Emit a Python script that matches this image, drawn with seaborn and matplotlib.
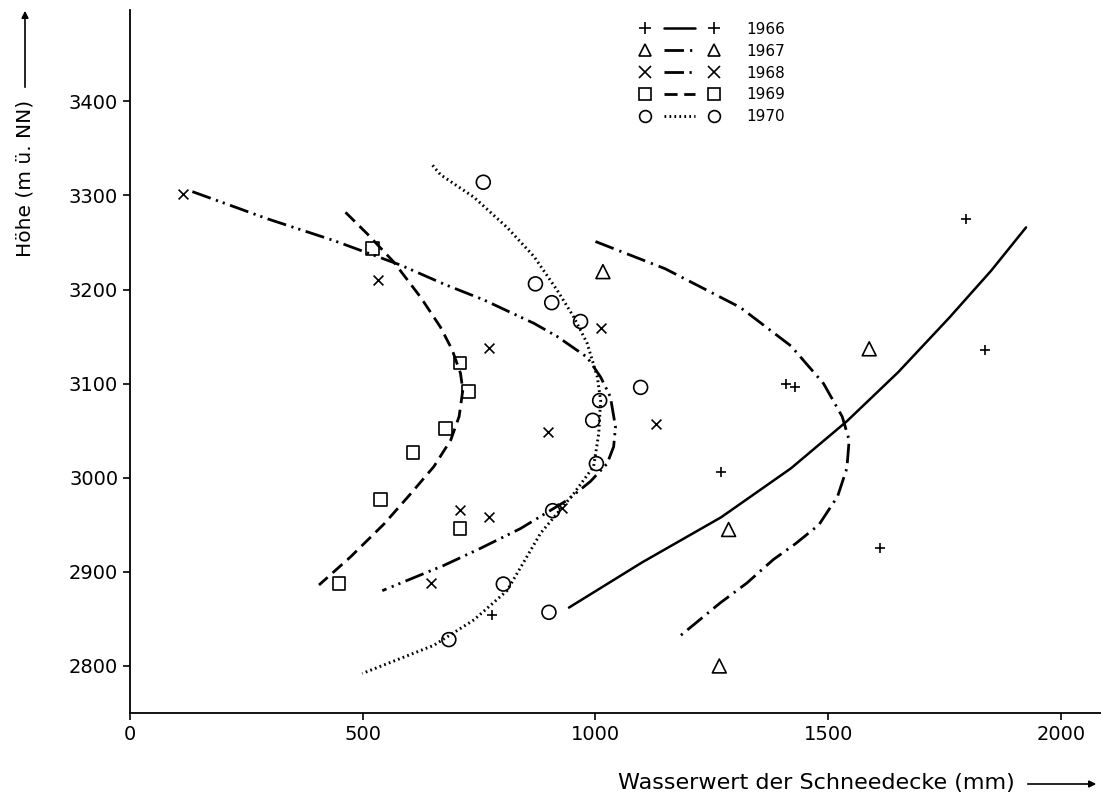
import pandas as pd
import matplotlib
matplotlib.use("Agg")
import matplotlib.pyplot as plt
from matplotlib.lines import Line2D
from matplotlib.legend_handler import HandlerTuple
import seaborn as sns


# measured points (Wasserwert mm, Hoehe m)
YEARS = [1966, 1967, 1968, 1969, 1970]

p66_x = [1796, 1837, 1410, 1428, 1270, 1612, 778]
p66_y = [3275, 3136, 3100, 3096, 3006, 2925, 2854]
p67_x = [1016, 1588, 1286, 1266]
p67_y = [3219, 3137, 2945, 2800]
p68_x = [114, 533, 771, 1011, 898, 1131, 709, 772, 928, 647]
p68_y = [3301, 3210, 3138, 3159, 3049, 3057, 2966, 2958, 2968, 2888]
p69_x = [521, 709, 728, 678, 608, 539, 709, 449]
p69_y = [3244, 3122, 3092, 3052, 3027, 2977, 2946, 2888]
p70_x = [759, 871, 906, 968, 1097, 1009, 994, 1002, 908, 802, 900, 685]
p70_y = [3314, 3206, 3186, 3166, 3096, 3082, 3061, 3015, 2965, 2887, 2857, 2828]

# fitted curves
c66_x = [943, 1100, 1270, 1420, 1540, 1650, 1760, 1850, 1925]
c66_y = [2862, 2910, 2958, 3010, 3060, 3112, 3170, 3220, 3266]
c67_x = [1000, 1150, 1311, 1420, 1490, 1530, 1545, 1540, 1520, 1480, 1430, 1382, 1325, 1268, 1182]
c67_y = [3251, 3222, 3181, 3140, 3100, 3065, 3040, 3010, 2980, 2950, 2930, 2913, 2888, 2867, 2832]
c68_x = [134, 296, 438, 581, 678, 760, 868, 918, 982, 1011, 1032, 1043, 1039, 1025, 989, 939, 839, 753, 675, 596, 542]
c68_y = [3304, 3275, 3252, 3226, 3205, 3189, 3164, 3150, 3128, 3107, 3086, 3054, 3033, 3015, 2996, 2976, 2946, 2925, 2907, 2891, 2880]
c69_x = [463, 510, 567, 624, 667, 692, 710, 715, 707, 689, 653, 603, 546, 474, 406]
c69_y = [3282, 3259, 3229, 3192, 3160, 3136, 3111, 3093, 3065, 3040, 3012, 2983, 2951, 2916, 2886]
c70_x = [650, 667, 739, 810, 868, 918, 953, 982, 1004, 1011, 1007, 996, 953, 882, 810, 739, 653, 499]
c70_y = [3332, 3322, 3298, 3266, 3235, 3199, 3171, 3143, 3107, 3082, 3047, 3012, 2983, 2941, 2880, 2849, 2822, 2792]

points = [(p66_x, p66_y), (p67_x, p67_y), (p68_x, p68_y), (p69_x, p69_y), (p70_x, p70_y)]
curves = [(c66_x, c66_y), (c67_x, c67_y), (c68_x, c68_y), (c69_x, c69_y), (c70_x, c70_y)]

markers = ["+", "^", "x", "s", "o"]
msizes = [55, 100, 50, 85, 100]
dashes = ["-", (0, (7, 2.2, 0.8, 2.2)), (0, (7, 2, 0.8, 1.8, 0.8, 2)), (0, (4.7, 2.4)), (0, (0.6, 1.1))]
lws = [1.8, 2.0, 2.0, 2.0, 2.1]

sns.set_style("ticks")
plt.rcParams["font.family"] = ["DejaVu Sans"]
for k in ["text.color", "axes.labelcolor", "xtick.color", "ytick.color", "axes.edgecolor"]:
    plt.rcParams[k] = "black"

fig = plt.figure(figsize=(11.01, 8), dpi=100)
ax = fig.add_axes([130 / 1101, 87 / 800, 971 / 1101, 703 / 800])

handles = []
for i, year in enumerate(YEARS):
    px, py = points[i]
    cx, cy = curves[i]
    df_p = pd.DataFrame({"x": px, "y": py})
    df_c = pd.DataFrame({"x": cx, "y": cy})
    sns.lineplot(data=df_c, x="x", y="y", sort=False, estimator=None,
                 color="black", linewidth=lws[i], linestyle=dashes[i], ax=ax)
    filled = markers[i] in ["+", "x"]
    sns.scatterplot(data=df_p, x="x", y="y", marker=markers[i], s=msizes[i],
                    facecolors="none" if not filled else "black",
                    edgecolors="black", color="black", linewidth=1.2, ax=ax, zorder=3)
    m = Line2D([], [], marker=markers[i], linestyle="none", color="black",
               markerfacecolor="none", markersize=8.5, markeredgewidth=1.2)
    ln = Line2D([], [], color="black", linewidth=lws[i], linestyle=dashes[i])
    handles.append((m, ln, m))

ax.legend(handles, [str(y) for y in YEARS],
          handler_map={tuple: HandlerTuple(ndivide=None, pad=0.25)},
          handlelength=6.5, frameon=False, fontsize=11,
          loc="upper left", bbox_to_anchor=(616 / 1101, 792 / 800),
          bbox_transform=fig.transFigure, labelspacing=0.45, handletextpad=1.1)

ax.set_xlim(0, 2086)
ax.set_ylim(2750, 3497)
ax.set_xticks([0, 500, 1000, 1500, 2000])
ax.set_yticks([2800, 2900, 3000, 3100, 3200, 3300, 3400])
ax.tick_params(labelsize=14, length=5, width=1.2, direction="out")
ax.set_xlabel("")
ax.set_ylabel("")
sns.despine(ax=ax)
for sp in ["left", "bottom"]:
    ax.spines[sp].set_linewidth(1.3)

# axis titles with arrows
fig.text(25 / 1101, 1 - 178 / 800, "Höhe (m ü. NN)", rotation=90,
         ha="center", va="center", fontsize=14.5)
ax.annotate("", xy=(25 / 1101, 1 - 8 / 800), xytext=(25 / 1101, 1 - 90 / 800),
            xycoords=fig.transFigure, textcoords=fig.transFigure,
            arrowprops=dict(arrowstyle="-|>", color="black", lw=1.2))
fig.text(618 / 1101, 1 - 783 / 800, "Wasserwert der Schneedecke (mm)",
         ha="left", va="center", fontsize=16)
ax.annotate("", xy=(1099 / 1101, 1 - 784 / 800), xytext=(1025 / 1101, 1 - 784 / 800),
            xycoords=fig.transFigure, textcoords=fig.transFigure,
            arrowprops=dict(arrowstyle="-|>", color="black", lw=1.2))

fig.savefig("out.png", dpi=100)
